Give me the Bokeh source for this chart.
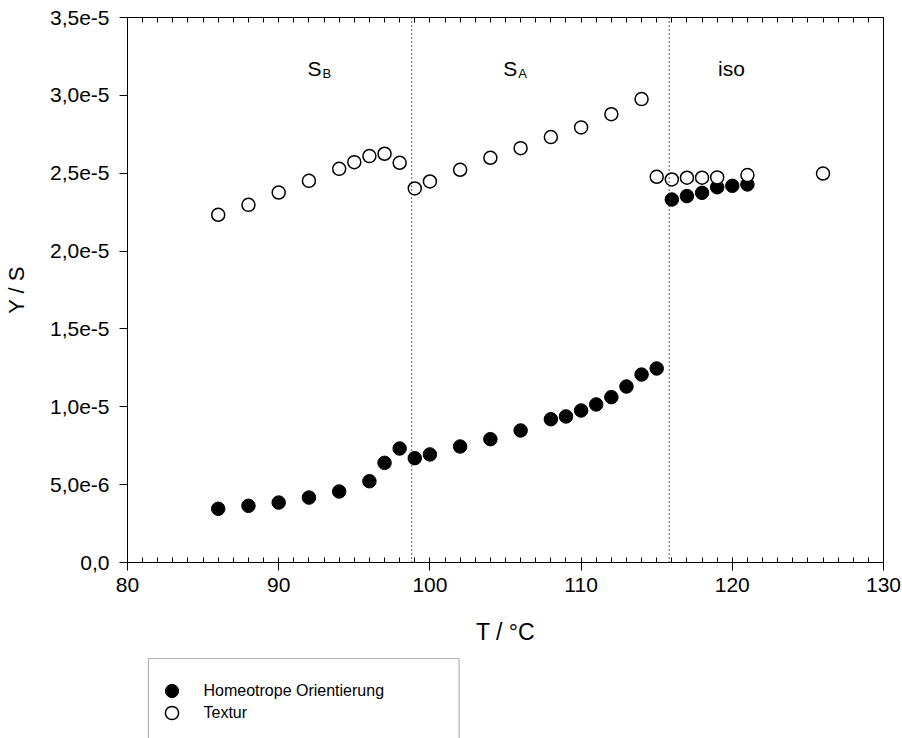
import numpy as np
from bokeh.plotting import figure
from bokeh.layouts import column
from bokeh.models import (Range1d, LinearAxis, FixedTicker, CustomJSTickFormatter,
                          Span, Label, Legend, LegendItem, ColumnDataSource, BoxAnnotation)
from bokeh.embed import file_html
from bokeh.resources import INLINE

# ---- data ----
T_homeo = [86, 88, 90, 92, 94, 96, 97, 98, 99, 100, 102, 104, 106, 108, 109, 110, 111, 112, 113, 114, 115,
           116, 117, 118, 119, 120, 121]
Y_homeo = [3.45e-6, 3.64e-6, 3.85e-6, 4.17e-6, 4.56e-6, 5.22e-6, 6.40e-6, 7.32e-6, 6.70e-6, 6.94e-6,
           7.45e-6, 7.92e-6, 8.48e-6, 9.20e-6, 9.38e-6, 9.76e-6, 10.15e-6, 10.62e-6, 11.30e-6, 12.07e-6,
           12.46e-6, 23.31e-6, 23.53e-6, 23.74e-6, 24.10e-6, 24.19e-6, 24.28e-6]
T_textur = [86, 88, 90, 92, 94, 95, 96, 97, 98, 99, 100, 102, 104, 106, 108, 110, 112, 114,
            115, 116, 117, 118, 119, 121, 126]
Y_textur = [22.33e-6, 22.97e-6, 23.76e-6, 24.51e-6, 25.28e-6, 25.71e-6, 26.10e-6, 26.25e-6, 25.67e-6,
            24.02e-6, 24.47e-6, 25.22e-6, 25.99e-6, 26.61e-6, 27.32e-6, 27.94e-6, 28.79e-6, 29.76e-6,
            24.77e-6, 24.60e-6, 24.71e-6, 24.71e-6, 24.73e-6, 24.88e-6, 24.98e-6]
transitions = [98.79, 115.83]
y_ticks = [0.0, 5e-6, 1e-5, 1.5e-5, 2e-5, 2.5e-5, 3e-5, 3.5e-5]
x_ticks = [80, 90, 100, 110, 120, 130]
series_names = ["Homeotrope Orientierung", "Textur"]
x_title = "T / °C"
y_title = "Y / S"

FONT = "Liberation Sans"
BL, BR = 126, 19   # left / right borders shared by both figures

p = figure(width=902, height=655, output_backend="svg", toolbar_location=None,
           x_range=Range1d(80, 130), y_range=Range1d(0, 3.5e-5),
           min_border_left=BL, min_border_right=BR, min_border_top=17, min_border_bottom=93,
           background_fill_color="white", border_fill_color="white")
p.xgrid.visible = False
p.ygrid.visible = False
p.outline_line_color = "black"
p.outline_line_width = 1

# bottom axis
xa = p.xaxis[0]
xa.ticker = FixedTicker(ticks=x_ticks, minor_ticks=list(range(x_ticks[0], x_ticks[-1] + 1)))
xa.major_tick_out = 8
xa.major_tick_in = 0
xa.minor_tick_in = 5
xa.minor_tick_out = 0
xa.axis_line_color = "black"
xa.major_tick_line_color = "black"
xa.minor_tick_line_color = "black"
xa.major_label_text_font = FONT
xa.major_label_text_font_size = "21px"
xa.major_label_text_color = "black"
xa.major_label_standoff = 7
xa.axis_label = x_title
xa.axis_label_text_font = FONT
xa.axis_label_text_font_size = "23px"
xa.axis_label_text_font_style = "normal"
xa.axis_label_text_color = "black"
xa.axis_label_standoff = 24

# left axis
ya = p.yaxis[0]
ya.ticker = FixedTicker(ticks=y_ticks, minor_ticks=[])
ya.formatter = CustomJSTickFormatter(code="""
if (Math.abs(tick) < 1e-12) { return "0,0"; }
return tick.toExponential(1).replace(".", ",");
""")
ya.major_tick_out = 8
ya.major_tick_in = 0
ya.minor_tick_line_color = None
ya.axis_line_color = "black"
ya.major_tick_line_color = "black"
ya.major_label_text_font = FONT
ya.major_label_text_font_size = "21px"
ya.major_label_text_color = "black"
ya.major_label_standoff = 10
ya.axis_label = y_title
ya.axis_label_text_font = FONT
ya.axis_label_text_font_size = "22px"
ya.axis_label_text_font_style = "normal"
ya.axis_label_text_color = "black"
ya.axis_label_standoff = 18

# top axis: only inward minor ticks
ta = LinearAxis(ticker=FixedTicker(ticks=[], minor_ticks=list(range(x_ticks[0] + 1, x_ticks[-1]))))
ta.major_tick_out = 0
ta.major_tick_in = 0
ta.minor_tick_in = 5
ta.minor_tick_out = 0
ta.major_label_text_color = None
ta.major_label_text_font_size = "1px"
ta.major_label_standoff = 0
ta.axis_line_color = "black"
ta.minor_tick_line_color = "black"
p.add_layout(ta, "above")

# phase transitions
for t in transitions:
    p.add_layout(Span(location=t, dimension="height", line_color="black",
                      line_dash="1 3", line_width=1.3))

# data
src_h = ColumnDataSource(dict(x=T_homeo, y=Y_homeo))
src_t = ColumnDataSource(dict(x=T_textur, y=Y_textur))
style_h = dict(marker="circle", fill_color="black", line_color="black", line_width=1)
style_t = dict(marker="circle", fill_color="white", line_color="black", line_width=1.5)
r_h = p.scatter("x", "y", source=src_h, size=13.5, **style_h)
r_t = p.scatter("x", "y", source=src_t, size=13, **style_t)

# phase labels
lab_kw = dict(text_font=FONT, text_color="black", text_baseline="alphabetic")
p.add_layout(Label(x=91.9, y=3.173e-5, text="S", text_font_size="21px", **lab_kw))
p.add_layout(Label(x=91.9, y=3.173e-5, x_offset=15, y_offset=-5, text="B", text_font_size="13px", **lab_kw))
p.add_layout(Label(x=104.85, y=3.173e-5, text="S", text_font_size="21px", **lab_kw))
p.add_layout(Label(x=104.85, y=3.173e-5, x_offset=15, y_offset=-5, text="A", text_font_size="13px", **lab_kw))
p.add_layout(Label(x=119.95, y=3.173e-5, text="iso", text_font_size="21px", text_align="center", **lab_kw))

# ---- legend strip below the chart (box cut off by the page bottom) ----
LH = 83
FW = 902 - BL - BR
p2 = figure(width=902, height=LH, output_backend="svg", toolbar_location=None,
            x_axis_type=None, y_axis_type=None,
            min_border_left=BL, min_border_right=BR, min_border_top=0, min_border_bottom=0,
            x_range=Range1d(0, FW), y_range=Range1d(0, LH),
            background_fill_color="white", border_fill_color="white")
p2.xgrid.visible = False
p2.ygrid.visible = False
p2.outline_line_color = None
# legend proxies (no visible point)
proxy = ColumnDataSource(dict(x=np.array([np.nan]), y=np.array([np.nan])))
d_h = p2.scatter("x", "y", source=proxy, size=13.5, **style_h)
d_t = p2.scatter("x", "y", source=proxy, size=13, **style_t)
p2.add_layout(BoxAnnotation(left=147 - BL, right=458 - BL, top=LH - 3, bottom=-20,
                            fill_color=None, fill_alpha=0, line_color="black", line_width=1.2))
leg_kw = dict(orientation="vertical", glyph_width=33, glyph_height=33, label_height=33,
              label_standoff=16, padding=0, spacing=0, margin=0,
              label_text_font=FONT, label_text_font_size="16px", label_text_color="black",
              border_line_color=None, background_fill_alpha=0)
p2.add_layout(Legend(items=[LegendItem(label=series_names[0], renderers=[d_h])],
                     location=(153.5 - BL, 31), **leg_kw))
p2.add_layout(Legend(items=[LegendItem(label=series_names[1], renderers=[d_t])],
                     location=(153.5 - BL, 9), **leg_kw))

layout = column(p, p2, spacing=0)
open("out.html", "w").write(file_html(layout, INLINE))
